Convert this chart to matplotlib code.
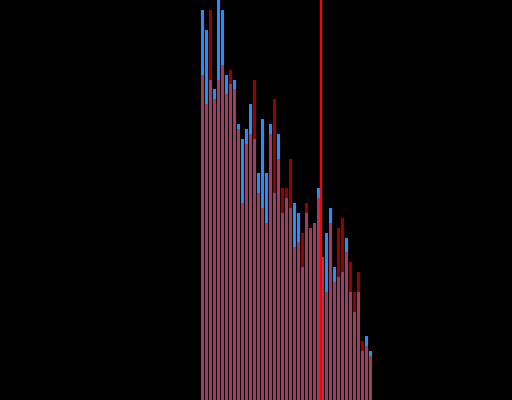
import matplotlib
matplotlib.use("Agg")
import matplotlib.pyplot as plt
import numpy as np

# bin index
bins = list(range(43))
# series heights (arbitrary units, 0-400 scale)
blue_vals = [390, 370, 320, 311, 400, 390, 325, 316, 320, 276, 261,
             271, 296, 261, 227, 281, 227, 276, 207, 266, 187, 202,
             192, 197, 187, 133, 187, 172, 177, 212, 143, 167, 192,
             133, 123, 128, 162, 108, 88, 108, 49, 64, 49]
red_vals = [325, 296, 390, 301, 320, 335, 306, 330, 311, 271, 197,
            256, 266, 320, 207, 192, 177, 266, 301, 241, 212, 212,
            241, 153, 158, 167, 197, 172, 177, 202, 143, 108, 177,
            118, 172, 182, 148, 138, 108, 128, 59, 54, 44]
threshold = 29.5

fig = plt.figure(figsize=(5.12, 4.0), dpi=100)
fig.patch.set_facecolor("black")
ax = fig.add_axes([0, 0, 1, 1])
ax.set_facecolor("black")

ax.bar(bins, blue_vals, width=0.75, color="#1E90FF", align="center", linewidth=0)
ax.bar(bins, red_vals, width=0.75, color="#FF0000", alpha=0.6, align="center", linewidth=0)
ax.axvline(threshold, color="#FF0000", linewidth=1.6)

ax.set_xlim(-50.625, 77.375)
ax.set_ylim(0, 400)
ax.axis("off")

fig.savefig("out.png", dpi=100, facecolor="black")
